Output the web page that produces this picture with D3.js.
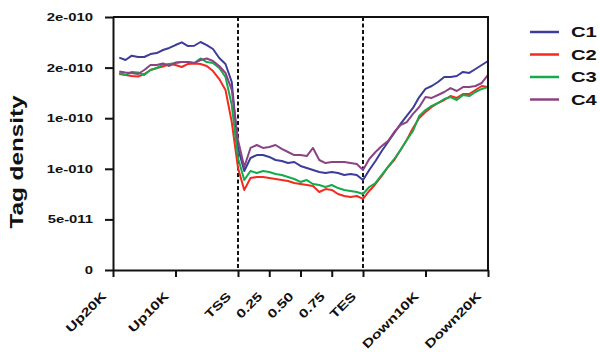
<!DOCTYPE html>
<html>
<head>
<meta charset="utf-8">
<script src="https://cdn.jsdelivr.net/npm/d3@7"></script>
<style>
body { margin: 0; background: #fff; }
text { font-family: "Liberation Sans", Arial, sans-serif; font-weight: bold; fill: #111; }
</style>
</head>
<body>
<svg id="chart"></svg>
<script>
var width = 600,
    height = 352;

// Tag density per bin, in units of 1e-10 (20 bins upstream, 20 in gene body, 20 downstream)
var c1 = [2.098, 2.075, 2.118, 2.105, 2.105, 2.134, 2.144, 2.174, 2.194, 2.223,
          2.250, 2.213, 2.216, 2.253, 2.223, 2.184, 2.095, 2.036, 1.858, 1.206,
          0.978, 1.107, 1.136, 1.136, 1.117, 1.087, 1.077, 1.057, 1.067, 1.028,
          1.008, 0.988, 0.968, 0.958, 0.968, 0.958, 0.939, 0.949, 0.939, 0.889,
          0.988, 1.077, 1.176, 1.265, 1.354, 1.443, 1.522, 1.601, 1.709, 1.789,
          1.818, 1.858, 1.907, 1.907, 1.917, 1.957, 1.947, 1.986, 2.026, 2.065];
var c2 = [1.937, 1.927, 1.917, 1.912, 1.937, 1.976, 1.996, 2.011, 2.036, 2.026,
          2.006, 2.036, 2.041, 2.036, 2.016, 1.966, 1.887, 1.779, 1.462, 1.008,
          0.791, 0.909, 0.919, 0.919, 0.909, 0.899, 0.889, 0.879, 0.860, 0.850,
          0.840, 0.830, 0.771, 0.800, 0.791, 0.751, 0.731, 0.721, 0.731, 0.702,
          0.781, 0.850, 0.929, 1.018, 1.087, 1.186, 1.285, 1.403, 1.502, 1.561,
          1.611, 1.650, 1.680, 1.719, 1.700, 1.739, 1.739, 1.779, 1.818, 1.808];
var c3 = [1.947, 1.927, 1.957, 1.952, 1.927, 1.976, 1.996, 2.026, 2.036, 2.045,
          2.055, 2.055, 2.045, 2.090, 2.055, 2.045, 1.996, 1.907, 1.630, 1.107,
          0.889, 0.978, 0.958, 0.978, 0.968, 0.949, 0.939, 0.919, 0.899, 0.870,
          0.889, 0.850, 0.840, 0.820, 0.840, 0.810, 0.791, 0.781, 0.771, 0.751,
          0.820, 0.860, 0.939, 1.018, 1.097, 1.186, 1.285, 1.374, 1.522, 1.581,
          1.621, 1.650, 1.690, 1.709, 1.680, 1.729, 1.719, 1.759, 1.789, 1.808];
var c4 = [1.961, 1.952, 1.947, 1.937, 1.976, 2.026, 2.026, 2.041, 2.016, 2.050,
          2.055, 2.055, 2.045, 2.075, 2.090, 2.065, 2.016, 1.947, 1.779, 1.285,
          1.018, 1.206, 1.235, 1.206, 1.215, 1.235, 1.196, 1.166, 1.136, 1.136,
          1.126, 1.206, 1.087, 1.057, 1.067, 1.067, 1.067, 1.057, 1.047, 0.988,
          1.097, 1.166, 1.225, 1.275, 1.364, 1.433, 1.462, 1.542, 1.611, 1.709,
          1.700, 1.729, 1.759, 1.798, 1.769, 1.808, 1.808, 1.818, 1.848, 1.927];

var seriesNames = ["C1", "C2", "C3", "C4"];
var seriesColors = ["#3c3c9a", "#f42a1e", "#14aa4e", "#8b4384"];

// bin positions on the meta-gene axis (0 = Up20K, 2 = TSS, 4 = TES, 6 = Down20K)
var binPos = d3.range(1, 61).map(function(i) { return i / 10; });

var xTickPos = [0, 1, 2, 2.5, 3, 3.5, 4, 5, 6];
var xTickLabels = ["Up20K", "Up10K", "TSS", "0.25", "0.50", "0.75", "TES", "Down10K", "Down20K"];
var yTickPos = [0, 0.5, 1, 1.5, 2, 2.5];
var yTickLabels = ["0", "5e-011", "1e-010", "1e-010", "2e-010", "2e-010"];
var markerPos = [2, 4];

var stretch = 1.35;

var x = d3.scaleLinear([0, 6], [113, 488]);
var y = d3.scaleLinear([0, 2.5], [270, 17]);

var svg = d3.select('#chart')
  .attr('width', width)
  .attr('height', height);

// dashed TSS / TES markers
svg.selectAll('line.marker')
  .data(markerPos)
  .join('line')
  .attr('class', 'marker')
  .attr('x1', function(d) { return x(d); })
  .attr('x2', function(d) { return x(d); })
  .attr('y1', y(2.5))
  .attr('y2', y(0))
  .attr('stroke', '#111')
  .attr('stroke-width', 2)
  .attr('stroke-dasharray', '4,2.5');

// series
var line = d3.line()
  .x(function(d, i) { return x(binPos[i]); })
  .y(function(d) { return y(d); });

var series = [c1, c2, c3, c4];
svg.selectAll('path.series')
  .data(series)
  .join('path')
  .attr('class', 'series')
  .attr('d', line)
  .attr('fill', 'none')
  .attr('stroke', function(d, i) { return seriesColors[i]; })
  .attr('stroke-width', 2)
  .attr('stroke-linejoin', 'round');

// frame top and right
svg.append('path')
  .attr('d', 'M' + x(0) + ',' + y(2.5) + 'H' + x(6) + 'V' + y(0))
  .attr('fill', 'none')
  .attr('stroke', '#111')
  .attr('stroke-width', 2);

// x axis
var xAxis = svg.append('g')
  .attr('transform', 'translate(0,' + y(0) + ')')
  .call(d3.axisBottom(x).tickValues(xTickPos).tickFormat('').tickSize(7).tickSizeOuter(0));
xAxis.select('.domain').attr('stroke', '#111').attr('stroke-width', 2);
xAxis.selectAll('.tick line').attr('stroke', '#111').attr('stroke-width', 2);

svg.selectAll('text.xlab')
  .data(xTickPos)
  .join('text')
  .attr('class', 'xlab')
  .attr('transform', function(d) {
    return 'translate(' + (x(d) - 6) + ',' + (y(0) + 27) + ') rotate(-45) scale(' + stretch + ',1)';
  })
  .attr('text-anchor', 'end')
  .style('font-size', '12px')
  .text(function(d, i) { return xTickLabels[i]; });

// y axis
var yAxis = svg.append('g')
  .attr('transform', 'translate(' + x(0) + ',0)')
  .call(d3.axisLeft(y).tickValues(yTickPos)
    .tickFormat(function(d, i) { return yTickLabels[i]; })
    .tickSize(8).tickSizeOuter(0));
yAxis.select('.domain').attr('stroke', '#111').attr('stroke-width', 2);
yAxis.selectAll('.tick line').attr('stroke', '#111').attr('stroke-width', 2);
yAxis.selectAll('.tick text')
  .attr('x', -20 / stretch)
  .attr('transform', 'scale(' + stretch + ',1)')
  .style('font-size', '11px')
  .style('font-family', '"Liberation Sans", Arial, sans-serif')
  .attr('fill', '#111');

svg.append('text')
  .attr('transform', 'translate(23,162) rotate(-90) scale(' + stretch + ',1)')
  .attr('text-anchor', 'middle')
  .style('font-size', '18px')
  .text('Tag density');

// legend
var legend = svg.selectAll('g.legend')
  .data(seriesNames)
  .join('g')
  .attr('class', 'legend')
  .attr('transform', function(d, i) { return 'translate(530,' + (32 + i * 22.5) + ')'; });
legend.append('line')
  .attr('x1', 0).attr('x2', 29)
  .attr('stroke', function(d, i) { return seriesColors[i]; })
  .attr('stroke-width', 2.5);
legend.append('text')
  .attr('transform', 'translate(41,0) scale(' + stretch + ',1)')
  .attr('dy', '0.36em')
  .style('font-size', '15px')
  .text(function(d) { return d; });
</script>
</body>
</html>
